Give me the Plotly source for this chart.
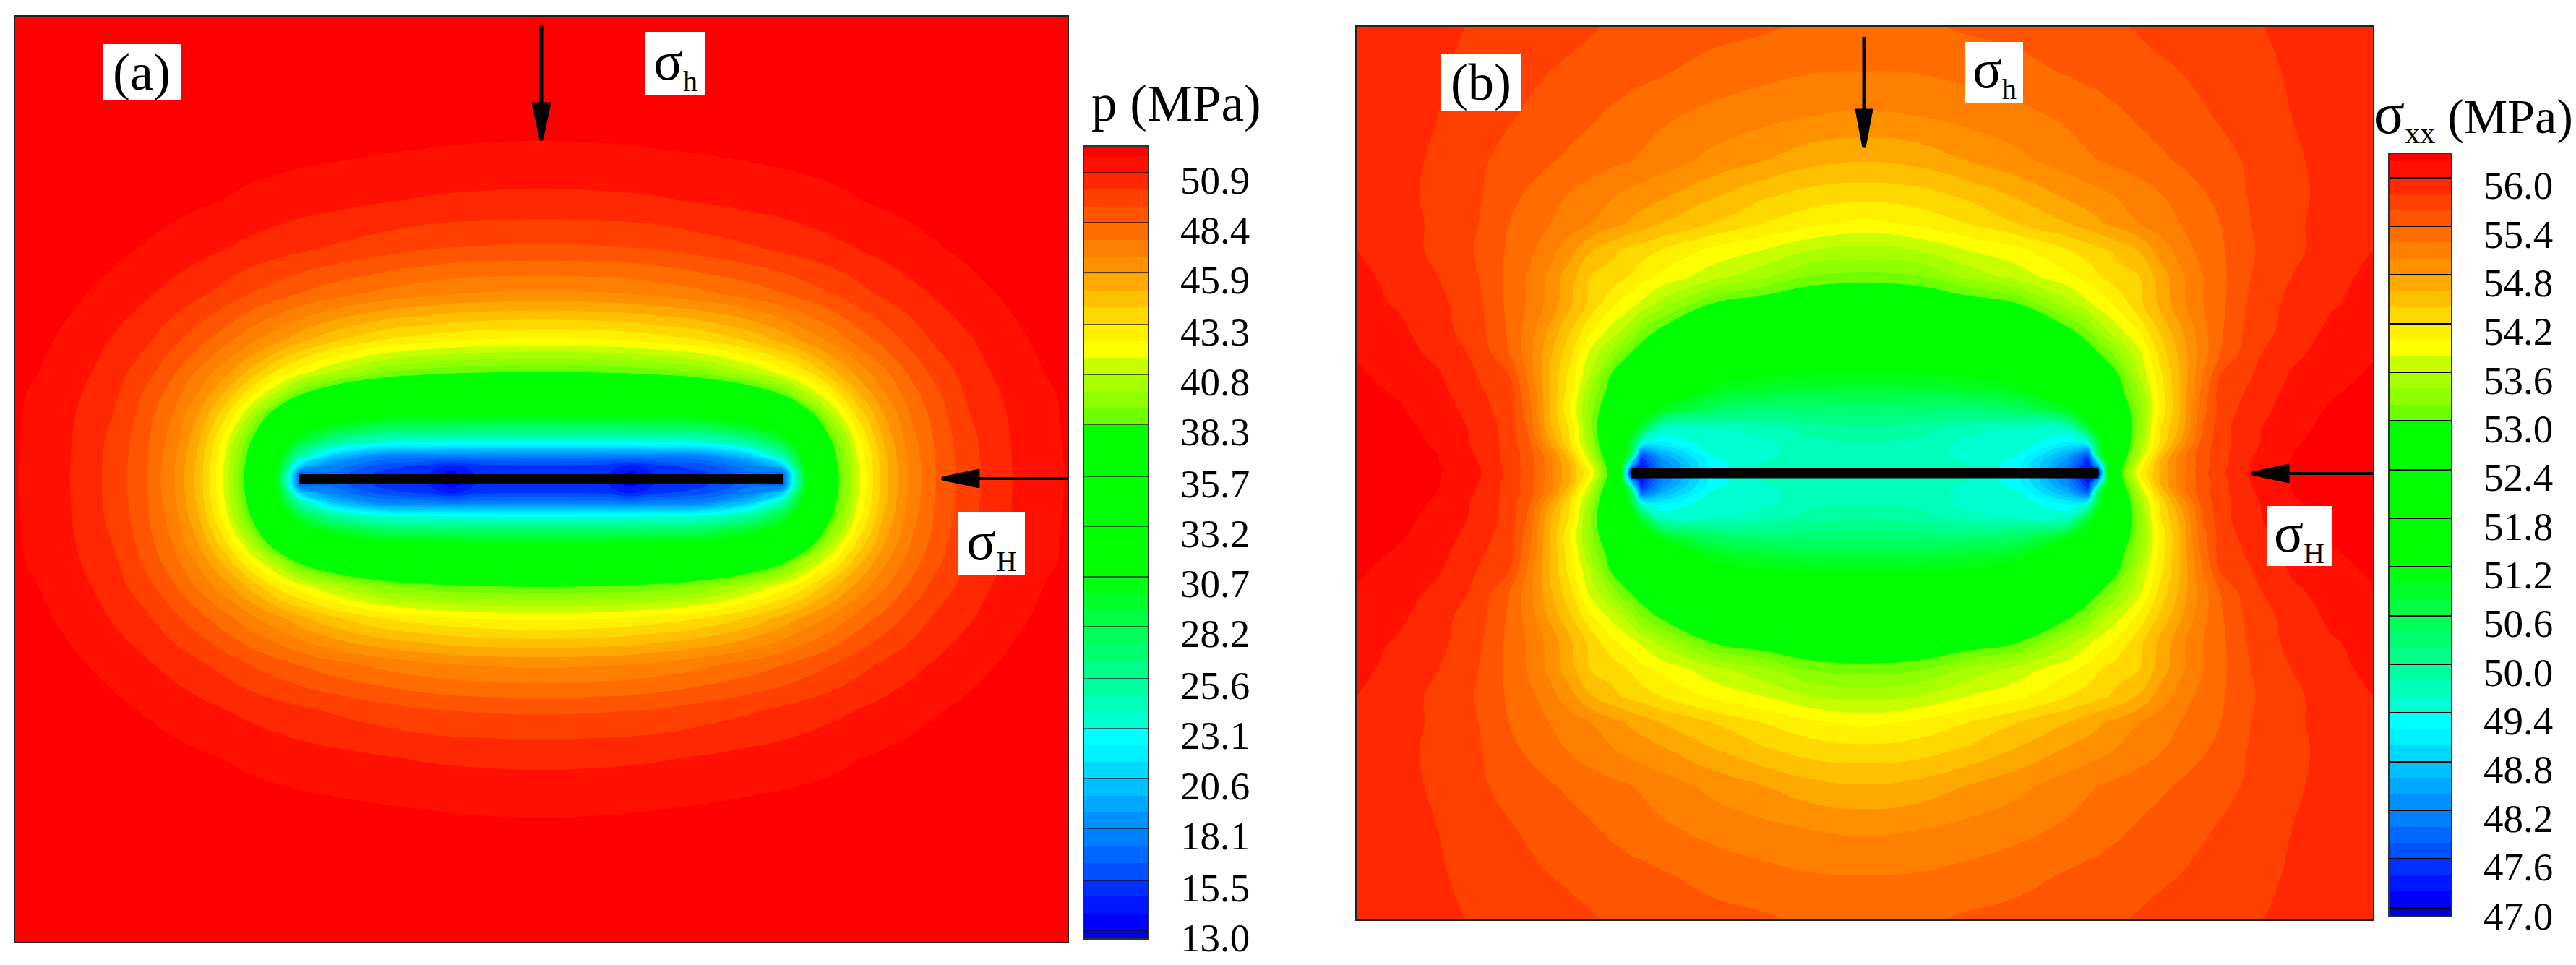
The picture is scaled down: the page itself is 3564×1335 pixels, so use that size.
import numpy as np
import plotly.graph_objects as go

W, H = 3564, 1335
SERIF = "Liberation Serif"

# colour of each contour band, lowest to highest
BAND_COLORS = [
    "#0000d8",
    "#0000ff", "#0018ff", "#0030ff", "#0050ff", "#0068ff", "#0080ff", "#0090ff", "#00a8ff", "#00c0ff",
    "#00d8ff", "#00f0ff", "#00ffff", "#00ffd0", "#00ffb8", "#00ffa0", "#00ff88", "#00ff70", "#00ff58",
    "#00ff40", "#00ff28", "#00ff10",
    "#00ff00", "#00ff00", "#00ff00", "#00ff00", "#00ff00", "#00ff00", "#00ff00", "#00ff00", "#00ff00",
    "#70ff00", "#90ff00", "#a8ff00", "#c8ff00", "#ffff00", "#fff000", "#ffd800", "#ffc000", "#ffa800",
    "#ff9000", "#ff8000", "#ff6c00", "#ff5500", "#ff4000", "#ff2800", "#ff1000", "#ff0000",
]

# panel (a): pore pressure, one quadrant (mirrored about both axes)
LABELS_A = [13.0, 15.5, 18.1, 20.6, 23.1, 25.6, 28.2, 30.7, 33.2, 35.7, 38.3, 40.8, 43.3, 45.9, 48.4, 50.9]
X_A = [0, .12, .17, .22, .3, .4, .46, .5, .55, .6, .65, .7, .75, .8, .85, .9, .95, 1]
Y_A = [0, .012, .03, .05, .08, .11, .14, .18, .23, .3, .4, .5, .6, .7, .8, 1]
Z_A = [
    [15.0, 14.9, 13.4, 14.9, 15.2, 17.0, 17.0, 29.6, 36.8, 41.3, 44.6, 46.8, 48.37, 49.5, 50.3, 50.95, 51.35, 51.8],
    [15.0, 14.9, 13.5, 14.9, 15.2, 17.0, 17.0, 29.8, 36.9, 41.3, 44.6, 46.8, 48.37, 49.5, 50.3, 50.95, 51.35, 51.8],
    [15.5, 15.3, 14.6, 15.4, 16.0, 18.0, 21.0, 30.6, 37.1, 41.4, 44.65, 46.85, 48.4, 49.5, 50.3, 50.97, 51.36, 51.8],
    [17.7, 17.6, 17.5, 17.7, 17.9, 20.6, 25.0, 31.3, 37.4, 41.6, 44.75, 46.95, 48.45, 49.55, 50.32, 50.98, 51.38, 51.82],
    [23.0, 23.05, 23.1, 23.2, 23.4, 25.7, 29.0, 33.0, 38.0, 42.0, 45.0, 47.1, 48.5, 49.6, 50.35, 51.0, 51.4, 51.83],
    [27.0, 27.1, 27.2, 27.3, 27.6, 29.7, 31.6, 35.0, 39.2, 42.7, 45.4, 47.3, 48.6, 49.7, 50.45, 51.02, 51.45, 51.84],
    [30.7, 30.8, 30.9, 31.0, 31.3, 32.8, 34.2, 36.8, 40.6, 43.5, 45.8, 47.5, 48.75, 49.85, 50.55, 51.05, 51.5, 51.85],
    [34.0, 34.1, 34.2, 34.4, 34.9, 36.3, 38.1, 40.3, 42.4, 44.7, 46.5, 47.9, 49.0, 50.0, 50.65, 51.15, 51.55, 51.87],
    [38.1, 38.25, 38.35, 38.6, 39.15, 40.75, 42.0, 43.0, 44.65, 46.1, 47.3, 48.5, 49.5, 50.25, 50.85, 51.3, 51.7, 52.1],
    [42.25, 42.4, 42.57, 42.8, 43.25, 44.35, 45.3, 46.03, 46.85, 47.8, 48.65, 49.45, 50.2, 50.7, 51.15, 51.55, 51.9, 52.3],
    [46.5, 46.6, 46.68, 46.9, 47.25, 47.87, 48.33, 48.7, 49.16, 49.72, 50.2, 50.62, 51.0, 51.33, 51.65, 51.95, 52.3, 52.6],
    [49.08, 49.15, 49.2, 49.3, 49.6, 49.98, 50.25, 50.45, 50.68, 50.92, 51.18, 51.42, 51.67, 51.9, 52.15, 52.4, 52.7, 53.0],
    [50.65, 50.7, 50.74, 50.8, 50.93, 51.15, 51.27, 51.37, 51.5, 51.7, 51.85, 52.0, 52.15, 52.3, 52.5, 52.7, 52.9, 53.1],
    [51.53, 51.57, 51.6, 51.65, 51.72, 51.85, 51.93, 52.0, 52.1, 52.2, 52.3, 52.4, 52.5, 52.6, 52.75, 52.9, 53.05, 53.2],
    [52.2, 52.22, 52.25, 52.27, 52.3, 52.4, 52.45, 52.5, 52.55, 52.6, 52.7, 52.8, 52.9, 53.0, 53.1, 53.2, 53.3, 53.4],
    [53.0, 53.0, 53.0, 53.0, 53.0, 53.1, 53.1, 53.1, 53.2, 53.2, 53.3, 53.3, 53.4, 53.4, 53.5, 53.5, 53.6, 53.6],
]

# panel (b): horizontal stress, one quadrant (mirrored about both axes)
LABELS_B = [47.0, 47.6, 48.2, 48.8, 49.4, 50.0, 50.6, 51.2, 51.8, 52.4, 53.0, 53.6, 54.2, 54.8, 55.4, 56.0]
X_B = [0, .1, .2, .3, .4, .44, .46, .48, .5, .54, .58, .62, .66, .7, .76, .84, .92, 1]
Y_B = [0, .02, .04, .07, .1, .14, .18, .22, .27, .32, .38, .44, .5, .56, .62, .7, .8, .9, 1]
Z_B = [
    [49.75, 49.75, 49.65, 49.3, 48.1, 47.1, 47.1, 51.6, 52.8, 54.0, 54.6, 55.1, 55.5, 55.75, 56.03, 56.22, 56.3, 56.38],
    [49.75, 49.72, 49.6, 49.3, 48.2, 47.3, 48.8, 51.4, 52.7, 53.8, 54.6, 55.1, 55.48, 55.73, 56.0, 56.21, 56.3, 56.37],
    [49.75, 49.7, 49.55, 49.4, 48.5, 47.7, 50.5, 51.6, 52.55, 53.6, 54.45, 55.07, 55.5, 55.73, 55.98, 56.2, 56.3, 56.37],
    [49.8, 49.75, 49.55, 49.55, 49.2, 49.6, 50.9, 51.65, 52.4, 53.4, 54.2, 54.8, 55.4, 55.72, 55.95, 56.17, 56.28, 56.35],
    [49.95, 49.9, 49.7, 49.6, 49.62, 50.8, 51.35, 51.85, 52.4, 53.3, 54.17, 54.65, 55.35, 55.72, 55.95, 56.13, 56.27, 56.33],
    [50.3, 50.28, 50.25, 50.4, 51.0, 51.55, 51.9, 52.25, 52.6, 53.3, 54.03, 54.6, 55.27, 55.68, 55.9, 56.1, 56.23, 56.3],
    [50.7, 50.72, 50.8, 51.0, 51.75, 52.2, 52.42, 52.65, 52.85, 53.4, 54.07, 54.6, 55.2, 55.7, 55.83, 56.07, 56.18, 56.27],
    [51.15, 51.17, 51.25, 51.5, 52.2, 52.5, 52.65, 52.8, 53.0, 53.6, 54.13, 54.6, 55.13, 55.6, 55.79, 56.02, 56.13, 56.23],
    [51.6, 51.63, 51.75, 51.95, 52.5, 52.83, 53.0, 53.16, 53.4, 53.75, 54.27, 54.65, 55.07, 55.4, 55.74, 55.95, 56.08, 56.18],
    [52.06, 52.1, 52.25, 52.55, 52.93, 53.2, 53.45, 53.63, 53.74, 54.05, 54.42, 54.76, 55.1, 55.37, 55.68, 55.88, 56.05, 56.12],
    [52.6, 52.65, 52.8, 53.0, 53.53, 53.77, 53.88, 53.96, 54.08, 54.34, 54.64, 54.93, 55.17, 55.35, 55.64, 55.86, 55.98, 56.07],
    [53.12, 53.17, 53.45, 53.68, 53.95, 54.08, 54.18, 54.25, 54.31, 54.4, 54.68, 54.95, 55.17, 55.35, 55.6, 55.8, 55.94, 56.05],
    [53.55, 53.6, 53.8, 53.95, 54.2, 54.3, 54.35, 54.4, 54.47, 54.62, 54.88, 55.08, 55.25, 55.37, 55.58, 55.76, 55.88, 56.0],
    [53.95, 54.05, 54.2, 54.4, 54.6, 54.71, 54.77, 54.83, 54.88, 55.0, 55.1, 55.2, 55.3, 55.4, 55.6, 55.76, 55.88, 55.95],
    [54.27, 54.3, 54.43, 54.62, 54.83, 54.9, 54.93, 54.97, 55.02, 55.1, 55.18, 55.28, 55.36, 55.46, 55.62, 55.75, 55.86, 55.94],
    [54.61, 54.66, 54.8, 54.94, 55.1, 55.17, 55.2, 55.23, 55.25, 55.3, 55.36, 55.42, 55.49, 55.54, 55.63, 55.77, 55.86, 55.93],
    [54.97, 55.0, 55.07, 55.14, 55.24, 55.3, 55.32, 55.35, 55.37, 55.43, 55.48, 55.52, 55.57, 55.62, 55.7, 55.8, 55.87, 55.93],
    [55.2, 55.21, 55.26, 55.33, 55.42, 55.45, 55.46, 55.48, 55.5, 55.53, 55.57, 55.6, 55.64, 55.68, 55.74, 55.82, 55.88, 55.93],
    [55.33, 55.36, 55.43, 55.47, 55.53, 55.55, 55.57, 55.57, 55.58, 55.62, 55.65, 55.68, 55.72, 55.74, 55.78, 55.84, 55.89, 55.93],
]

SLIT_HALF_LENGTH = 0.46


def mirror(xs, ys, zs):
    z = np.array(zs)
    z = np.hstack([z[:, :0:-1], z])
    z = np.vstack([z[:0:-1], z])
    xs, ys = np.array(xs), np.array(ys)
    return np.r_[-xs[:0:-1], xs], np.r_[-ys[:0:-1], ys], z


def dx(x0, x1):
    return [x0 / W, x1 / W]


def dy(y0, y1):
    return [1 - y1 / H, 1 - y0 / H]


N = len(BAND_COLORS)
scale = [[i / (N - 1), c] for i, c in enumerate(BAND_COLORS)]

fig = go.Figure()
layout = {}
shapes = []
annotations = []


def panel(suffix, xs, ys, zs, start, size, box):
    """box: frame pixels left, top, right, bottom"""
    l, t, r, b = box
    x, y, z = mirror(xs, ys, zs)
    fig.add_trace(go.Contour(
        x=x, y=y, z=z, xaxis="x" + suffix, yaxis="y" + suffix, showscale=False,
        autocontour=False, colorscale=scale,
        contours=dict(start=start, end=start + 46 * size, size=size, coloring="fill", showlines=False),
        line=dict(width=0, smoothing=1.3), hoverinfo="skip",
    ))
    fig.add_trace(go.Scatter(
        x=[-SLIT_HALF_LENGTH, SLIT_HALF_LENGTH], y=[0, 0], mode="lines",
        xaxis="x" + suffix, yaxis="y" + suffix, line=dict(color="black", width=14),
        showlegend=False, hoverinfo="skip",
    ))
    common = dict(showticklabels=False, ticks="", showgrid=False, zeroline=False, automargin=False,
                  showline=True, mirror=True, linecolor="#222", linewidth=2, range=[-1, 1])
    layout["xaxis" + suffix] = dict(domain=dx(l, r), anchor="y" + suffix, **common)
    layout["yaxis" + suffix] = dict(domain=dy(t, b), anchor="x" + suffix, **common)


def bar(xa, ya, ya2, start, size, labels, box, top, bottom, label_px, tick_color):
    l, t, r, b = box
    edges = [bottom] + [start + i * size for i in range(N - 1)] + [top]
    fig.add_trace(go.Heatmap(
        x=[0, 1], y=edges, z=[[i] for i in range(N)], zmin=0, zmax=N - 1, colorscale=scale,
        showscale=False, xaxis=xa.replace("axis", ""), yaxis=ya.replace("axis", ""), hoverinfo="skip",
    ))
    fig.add_trace(go.Scatter(
        x=[0, 1], y=[bottom, top], mode="lines", opacity=0, showlegend=False, hoverinfo="skip",
        xaxis=xa.replace("axis", ""), yaxis=ya2.replace("axis", ""),
    ))
    per_px = (top - bottom) / (b - t)
    layout[xa] = dict(domain=dx(l, r), anchor=ya.replace("axis", ""), range=[0, 1], showticklabels=False,
                      ticks="", showgrid=False, zeroline=False, showline=True, mirror=True, automargin=False,
                      linecolor="#333", linewidth=2)
    layout[ya] = dict(domain=dy(t, b), anchor=xa.replace("axis", ""), range=[bottom, top], showticklabels=False,
                      tickmode="array", tickvals=labels, ticks="inside", ticklen=r - l, tickwidth=2,
                      tickcolor=tick_color, layer="above traces", showgrid=False, zeroline=False, automargin=False,
                      showline=True, mirror=True, linecolor="#333", linewidth=2)
    layout[ya2] = dict(domain=dy(t, b), anchor=xa.replace("axis", ""), overlaying=ya.replace("axis", ""), side="right",
                       range=[bottom, top], tickmode="array", automargin=False,
                       tickvals=[v - label_px * per_px for v in labels],
                       ticktext=[f"{v:.1f}" for v in labels], ticks="", ticklabelstandoff=44,
                       tickfont=dict(family=SERIF, size=55, color="black"),
                       showgrid=False, zeroline=False, showline=False)


def px_arrow(x_tail, y_tail, x_tip, y_tip, x_base, y_base, half, width):
    shapes.append(dict(type="line", xref="paper", yref="paper", x0=x_tail / W, y0=1 - y_tail / H,
                       x1=x_base / W, y1=1 - y_base / H, line=dict(color="black", width=width)))
    if x_tip == x_tail:
        pts = [(x_base - half, y_base), (x_base + half, y_base), (x_tip + 2, y_tip), (x_tip - 2, y_tip)]
    else:
        pts = [(x_base, y_base - half), (x_base, y_base + half), (x_tip, y_tip + 2), (x_tip, y_tip - 2)]
    path = "M " + " L ".join(f"{p[0] / W} {1 - p[1] / H}" for p in pts) + " Z"
    shapes.append(dict(type="path", xref="paper", yref="paper", path=path,
                       fillcolor="black", line=dict(color="black", width=1)))


def label(text, box, size):
    l, t, r, b = box
    shapes.append(dict(type="rect", xref="paper", yref="paper", x0=l / W, x1=r / W, y0=1 - t / H, y1=1 - b / H,
                       fillcolor="white", line=dict(width=0)))
    annotations.append(dict(text=text, xref="paper", yref="paper", x=(l + r) / 2 / W, y=1 - (t + b) / 2 / H,
                            xanchor="center", yanchor="middle", showarrow=False,
                            font=dict(family=SERIF, size=size, color="black")))


def title(text, xc, yc, size):
    annotations.append(dict(text=text, xref="paper", yref="paper", x=xc / W, y=1 - yc / H,
                            xanchor="center", yanchor="middle", showarrow=False,
                            font=dict(family=SERIF, size=size, color="black")))


def sigma(sub, px=40):
    return f'σ<sub><span style="font-size:{px}px">{sub}</span></sub>'


panel("", X_A, Y_A, Z_A, 13.0, 37.9 / 45, (21, 23, 1477, 1303))
panel("2", X_B, Y_B, Z_B, 47.0, 0.2, (1877, 37, 3283, 1272))
bar("xaxis3", "yaxis3", "yaxis4", 13.0, 37.9 / 45, LABELS_A, (1500, 203, 1588, 1298), 52.2, 12.6, 9.5, "rgba(0,0,0,0.6)")
bar("xaxis4", "yaxis5", "yaxis6", 47.0, 0.2, LABELS_B, (3306, 213, 3391, 1267), 56.29, 46.9, 10.5, "black")

px_arrow(749, 34, 749, 194, 749, 142, 13, 5)
px_arrow(1477, 662, 1303, 662, 1355, 662, 13, 4)
px_arrow(2579, 51, 2579, 204, 2579, 151, 12, 5)
px_arrow(3283, 655, 3116, 655, 3167, 655, 13, 4)

label("(a)", (142, 61, 250, 139), 72)
label(sigma("h"), (893, 44, 976, 132), 76)
label(sigma("H"), (1326, 709, 1418, 796), 76)
label("(b)", (1994, 75, 2104, 153), 72)
label(sigma("h"), (2719, 58, 2799, 142), 76)
label(sigma("H"), (3136, 700, 3226, 783), 76)
title("p (MPa)", 1627, 143, 71)
title('<span style="font-size:80px">σ</span><sub><span style="font-size:42px">xx</span></sub> (MPa)', 3422, 160, 68)

fig.update_layout(
    width=W, height=H, margin=dict(l=0, r=0, t=0, b=0), showlegend=False,
    paper_bgcolor="white", plot_bgcolor="white", shapes=shapes, annotations=annotations, **layout,
)
fig.write_html("out.html", config={"displayModeBar": False},
               post_script="document.body.style.margin='0';document.body.style.overflow='hidden';")
